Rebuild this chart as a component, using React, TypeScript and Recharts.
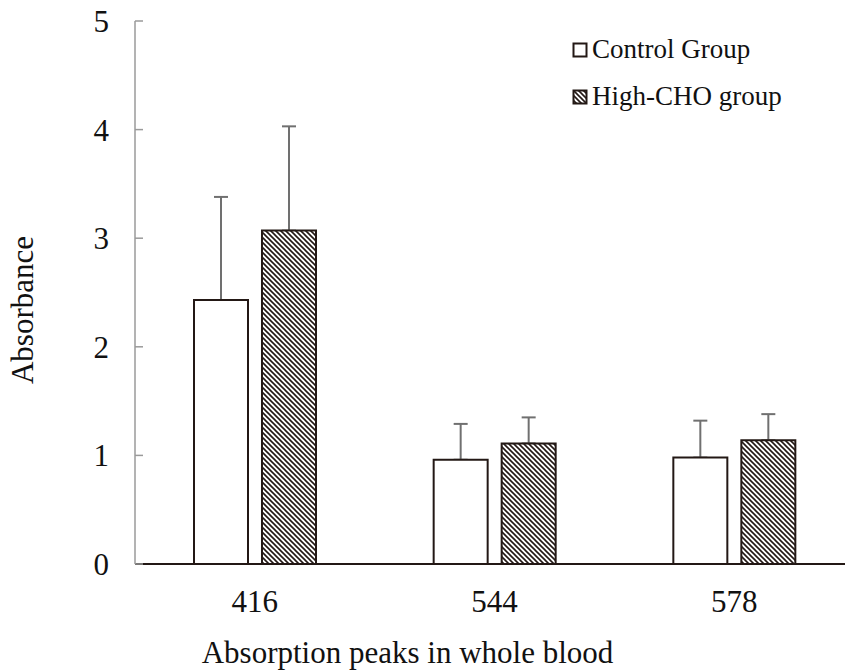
import { BarChart, Bar, XAxis, YAxis, ErrorBar, Legend, Label } from 'recharts';

const categories = ['416', '544', '578'];
const controlMean = [2.43, 0.96, 0.98];
const controlSd = [0.95, 0.33, 0.34];
const highChoMean = [3.07, 1.11, 1.14];
const highChoSd = [0.96, 0.24, 0.24];
const yTicks = [0, 1, 2, 3, 4, 5];

const data = categories.map((name, i) => ({
  name,
  control: controlMean[i],
  controlErr: [0, controlSd[i]],
  highCho: highChoMean[i],
  highChoErr: [0, highChoSd[i]],
}));

const FONT = '"Liberation Serif", "Times New Roman", serif';
const DARK = '#231815';

const LegendBox = (props: any) => {
  const items = props.payload || [];
  return (
    <div style={{ fontFamily: FONT, fontSize: 27, color: '#111' }}>
      {items.map((it: any) => (
        <div key={it.dataKey} style={{ display: 'flex', alignItems: 'center', height: 47 }}>
          <svg width={17} height={16} style={{ marginRight: 3 }}>
            <rect
              x={1.5}
              y={1.5}
              width={13}
              height={13}
              fill={it.dataKey === 'highCho' ? 'url(#hatch)' : '#fff'}
              stroke={DARK}
              strokeWidth={2}
            />
          </svg>
          <span>{it.value}</span>
        </div>
      ))}
    </div>
  );
};

const YTitle = () => (
  <text
    x={33}
    y={310}
    transform="rotate(-90, 33, 310)"
    textAnchor="middle"
    fontFamily={FONT}
    fontSize={31}
    fill="#111"
  >
    Absorbance
  </text>
);

export default function App() {
  return (
    <div style={{ position: 'absolute', left: 0, top: 0, width: 845, height: 670, overflow: 'hidden', background: '#fff' }}>
      <BarChart
        width={854}
        height={670}
        data={data}
        margin={{ top: 21, right: 0, bottom: 0, left: 0 }}
        barSize={54}
        barGap={14}
      >
        <defs>
          <pattern id="hatch" patternUnits="userSpaceOnUse" width={5} height={5}>
            <rect width={5} height={5} fill="#fff" />
            <path d="M-1,-1 L6,6 M-1,4 L1,6 M4,-1 L6,1" stroke={DARK} strokeWidth={1.6} />
          </pattern>
        </defs>
        <XAxis
          dataKey="name"
          height={106}
          tickLine={false}
          tickSize={0}
          tickMargin={26}
          axisLine={{ stroke: DARK, strokeWidth: 2 }}
          tick={{ fontFamily: FONT, fontSize: 31, fill: '#111' }}
        >
          <Label
            value="Absorption peaks in whole blood"
            position="insideBottom"
            offset={7}
            dx={-87}
            style={{ fontFamily: FONT, fontSize: 31, fill: '#111' }}
          />
        </XAxis>
        <YAxis
          width={135}
          domain={[0, 5]}
          ticks={yTicks}
          interval={0}
          tickSize={-8}
          tickMargin={34}
          axisLine={{ stroke: '#9a9a9a', strokeWidth: 1.5 }}
          tickLine={{ stroke: '#9a9a9a', strokeWidth: 1.5 }}
          tick={{ fontFamily: FONT, fontSize: 31, fill: '#111' }}
        >
          <Label content={<YTitle />} />
        </YAxis>
        <Legend
          layout="horizontal"
          verticalAlign="middle"
          align="center"
          wrapperStyle={{ top: 26, left: 572, width: 270 }}
          content={<LegendBox />}
        />
        <Bar dataKey="control" name="Control Group" fill="#fff" stroke={DARK} strokeWidth={2} isAnimationActive={false}>
          <ErrorBar dataKey="controlErr" width={7} stroke="#707070" strokeWidth={2} direction="y" zIndex={100} />
        </Bar>
        <Bar dataKey="highCho" name="High-CHO group" fill="url(#hatch)" stroke={DARK} strokeWidth={2} isAnimationActive={false}>
          <ErrorBar dataKey="highChoErr" width={7} stroke="#707070" strokeWidth={2} direction="y" zIndex={100} />
        </Bar>
      </BarChart>
    </div>
  );
}
